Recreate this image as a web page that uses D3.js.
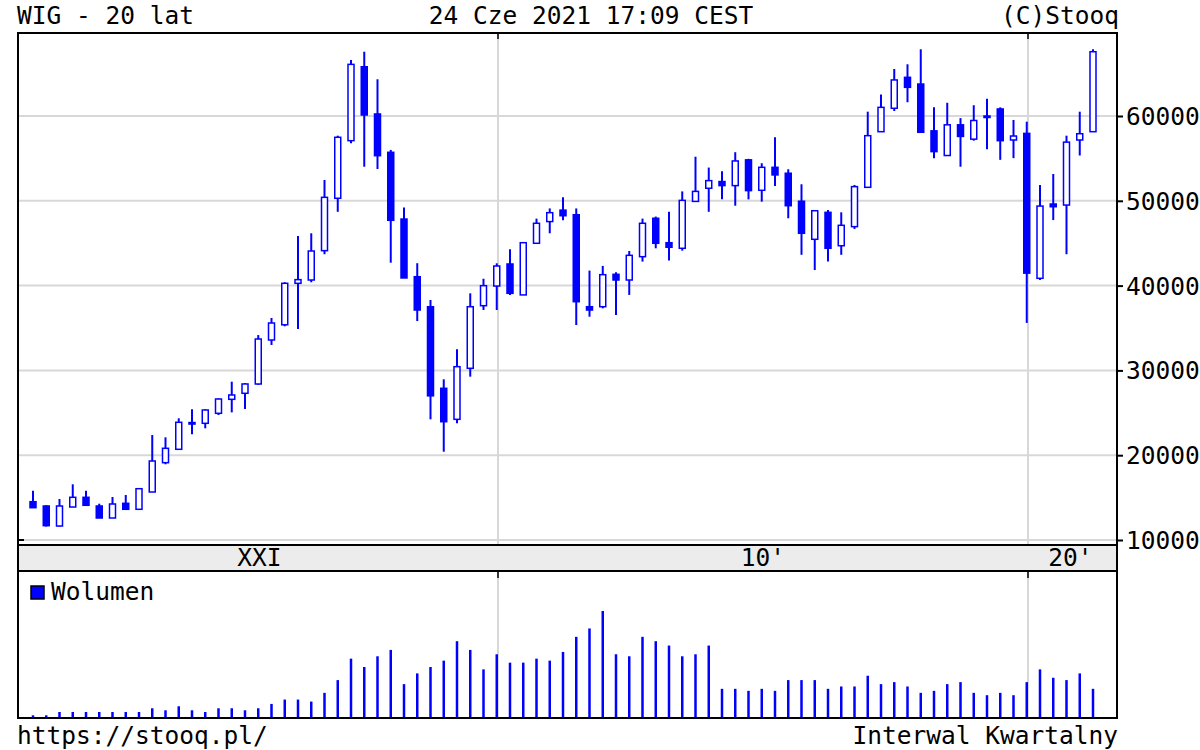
<!DOCTYPE html>
<html><head><meta charset="utf-8">
<script src="https://cdn.jsdelivr.net/npm/d3@7"></script>
<style>body{margin:0;background:#fff}svg{display:block}text{font-family:"DejaVu Sans Mono",monospace;fill:#000}</style>
</head><body><svg id="c" width="1200" height="750"></svg>
<script>
const open_ = [14517,14009,11650,13890,15035,14009,12594,14327,13620,15660,19116,20696,23700,23762,24940,26590,27300,28396,33585,35377,40270,40660,44120,50300,57090,65810,60240,55720,47850,41050,37510,27890,24230,30250,37630,39950,42550,38900,44990,47550,48900,48360,37510,37510,41330,40660,43410,47940,45060,44400,49930,51480,52270,51790,54830,51240,53950,53250,49950,45460,48640,44700,46950,51590,58150,60910,64560,63770,58250,55340,58960,57270,59900,60830,57170,57950,40860,49620,49500,57170,58150];
const high_ = [15814,14100,14835,16570,15814,14280,15070,15307,16050,22380,22110,24350,25410,25400,26700,28670,28500,34170,36180,40400,45850,46170,52450,57680,66600,67580,64330,56000,49200,42640,38300,28950,32490,39090,40810,42630,44300,45100,47900,49100,50410,49100,41770,42320,41570,44080,47900,48140,48700,51110,55200,53920,53480,55730,54950,54430,57490,53720,51950,48900,48910,48640,51860,60510,62550,65540,66100,67870,61020,61560,59750,61270,62040,61020,59530,59330,51860,53160,57680,60510,67870];
const low_ = [13809,11580,11600,13890,14092,12594,12594,13620,13620,15660,18927,20696,22465,23170,24740,25050,25450,28300,33000,35200,34880,40390,43700,48700,56780,54020,53750,42700,40900,35820,24230,20410,23760,29260,37120,37120,38900,38900,44990,46170,47700,35350,36330,37320,36530,38900,42830,44400,42950,44120,49930,48700,50170,49420,50170,49900,51750,47940,43630,41840,42830,43630,46680,51590,58150,60590,61620,58080,55030,55340,54020,57090,56090,54830,55030,35600,40660,47730,43700,55340,58150];
const close_ = [13809,11690,14009,15035,14092,12594,14245,13620,16050,19316,20814,23880,23850,25330,26627,27100,28400,33700,35590,40270,40700,44080,50410,57490,66090,60120,55320,47700,40900,37120,27000,23950,30440,37510,39990,42310,39090,45060,47350,48600,48240,38100,37120,41290,40660,43570,47350,44990,44520,50050,51110,52380,51790,54700,51200,53950,53050,49420,46170,48830,44400,47110,51670,57680,61020,64250,63380,58080,55800,58960,57590,59470,60000,57090,57640,41470,49380,49300,56920,57910,67580];
const volume = [5,5,15,15,15,15,15,15,15,26,20,32,20,15,26,26,20,26,39,52,52,46,72,110,174,149,181,200,98,130,149,168,226,200,142,187,162,162,174,168,194,239,264,316,187,181,239,226,213,181,187,213,84,84,78,84,78,110,110,110,84,91,91,123,98,104,91,72,78,98,104,72,65,72,65,104,142,117,110,130,84];
const firstQuarter = 2001.25; // Q2 2001
const yTicks = [10000,20000,30000,40000,50000,60000];
const bandLabels = [{t:"XXI",from:2001,to:2010},{t:"10'",from:2010,to:2020},{t:"20'",from:2020,to:2021.7}];
const vLines = [2010,2020];

const svg = d3.select("#c");
const L=18,R=1117,T=33,B=545,BB=571,VB=718, FS=24.5;
const x = d3.scaleLinear().domain([2010,2020]).range([498,1028]);
const y = d3.scaleLinear().domain([10000,60000]).range([540,116]);
const yv = d3.scaleLinear().domain([0,316]).range([717,611]);
const data = open_.map((o,i)=>({t:firstQuarter+i*0.25,o,h:high_[i],l:low_[i],c:close_[i],v:volume[i]}));
const xc = d=> x(d.t)+ (33 - x(firstQuarter));
const blue="#0000ff";

svg.append("g").selectAll("line").data(yTicks).join("line")
 .attr("x1",L).attr("x2",R).attr("y1",d=>y(d)).attr("y2",d=>y(d)).attr("stroke","#d8d8d8").attr("stroke-width",2);
vLines.forEach(v=>{
 [[T,B],[BB,VB]].forEach(([a,b])=>svg.append("line").attr("x1",x(v)).attr("x2",x(v)).attr("y1",a).attr("y2",b).attr("stroke","#d8d8d8").attr("stroke-width",2));
 svg.append("line").attr("x1",x(v)).attr("x2",x(v)).attr("y1",T).attr("y2",T+6).attr("stroke","#000").attr("stroke-width",1.5);
 svg.append("line").attr("x1",x(v)).attr("x2",x(v)).attr("y1",BB).attr("y2",BB+7).attr("stroke","#000").attr("stroke-width",1.5);
});
const g = svg.append("g");
g.selectAll("line.w").data(data).join("line").attr("class","w")
 .attr("x1",xc).attr("x2",xc).attr("y1",d=>y(d.h)).attr("y2",d=>y(d.l)).attr("stroke",blue).attr("stroke-width",2);
g.selectAll("rect").data(data).join("rect")
 .attr("x",d=>xc(d)-3).attr("width",6)
 .attr("y",d=>y(Math.max(d.o,d.c))).attr("height",d=>Math.max(1.5,Math.abs(y(d.o)-y(d.c))))
 .attr("fill",d=>d.c<d.o?blue:"#fff").attr("stroke",blue).attr("stroke-width",1.5);
svg.append("g").selectAll("line").data(data).join("line")
 .attr("x1",xc).attr("x2",xc).attr("y1",d=>yv(d.v)).attr("y2",yv(0)).attr("stroke",blue).attr("stroke-width",2.5);
svg.append("rect").attr("x",L).attr("y",B).attr("width",R-L).attr("height",BB-B).attr("fill","#ececec");
bandLabels.forEach(b=>svg.append("text").attr("x",(x(b.from)+Math.min(x(b.to),R))/2+(b.t==="20'"?-2:0)).attr("y",566).attr("text-anchor","middle").attr("font-size",FS).text(b.t));
const fr = svg.append("g").attr("fill","none").attr("stroke","#000").attr("stroke-width",2);
fr.append("rect").attr("x",L).attr("y",T).attr("width",R-L).attr("height",VB-T);
fr.append("line").attr("x1",L).attr("x2",R).attr("y1",B).attr("y2",B);
fr.append("line").attr("x1",L).attr("x2",R).attr("y1",BB).attr("y2",BB);
const ax = svg.append("g").attr("transform",`translate(${R},0)`).call(d3.axisRight(y).tickValues(yTicks).tickFormat(d3.format("d")).tickSize(6).tickPadding(3));
ax.select(".domain").remove();
ax.selectAll("line").attr("stroke","#000").attr("stroke-width",2);
ax.selectAll("text").attr("font-size",FS).attr("font-family","DejaVu Sans Mono").attr("dy","0.35em");
svg.append("line").attr("x1",L).attr("x2",L+6).attr("y1",y(10000)).attr("y2",y(10000)).attr("stroke","#000").attr("stroke-width",2);
svg.append("text").attr("x",17).attr("y",24).attr("font-size",FS).text("WIG - 20 lat");
svg.append("text").attr("x",591).attr("y",24).attr("text-anchor","middle").attr("font-size",FS).text("24 Cze 2021 17:09 CEST");
svg.append("text").attr("x",1119).attr("y",24).attr("text-anchor","end").attr("font-size",FS).text("(C)Stooq");
svg.append("rect").attr("x",31).attr("y",586).attr("width",13).attr("height",13).attr("fill",blue).attr("stroke","#000").attr("stroke-width",1.5);
svg.append("text").attr("x",51).attr("y",600).attr("font-size",FS).text("Wolumen");
svg.append("text").attr("x",17).attr("y",744).attr("font-size",FS).text("https://stooq.pl/");
svg.append("text").attr("x",1118).attr("y",744).attr("text-anchor","end").attr("font-size",FS).text("Interwal Kwartalny");
</script></body></html>
